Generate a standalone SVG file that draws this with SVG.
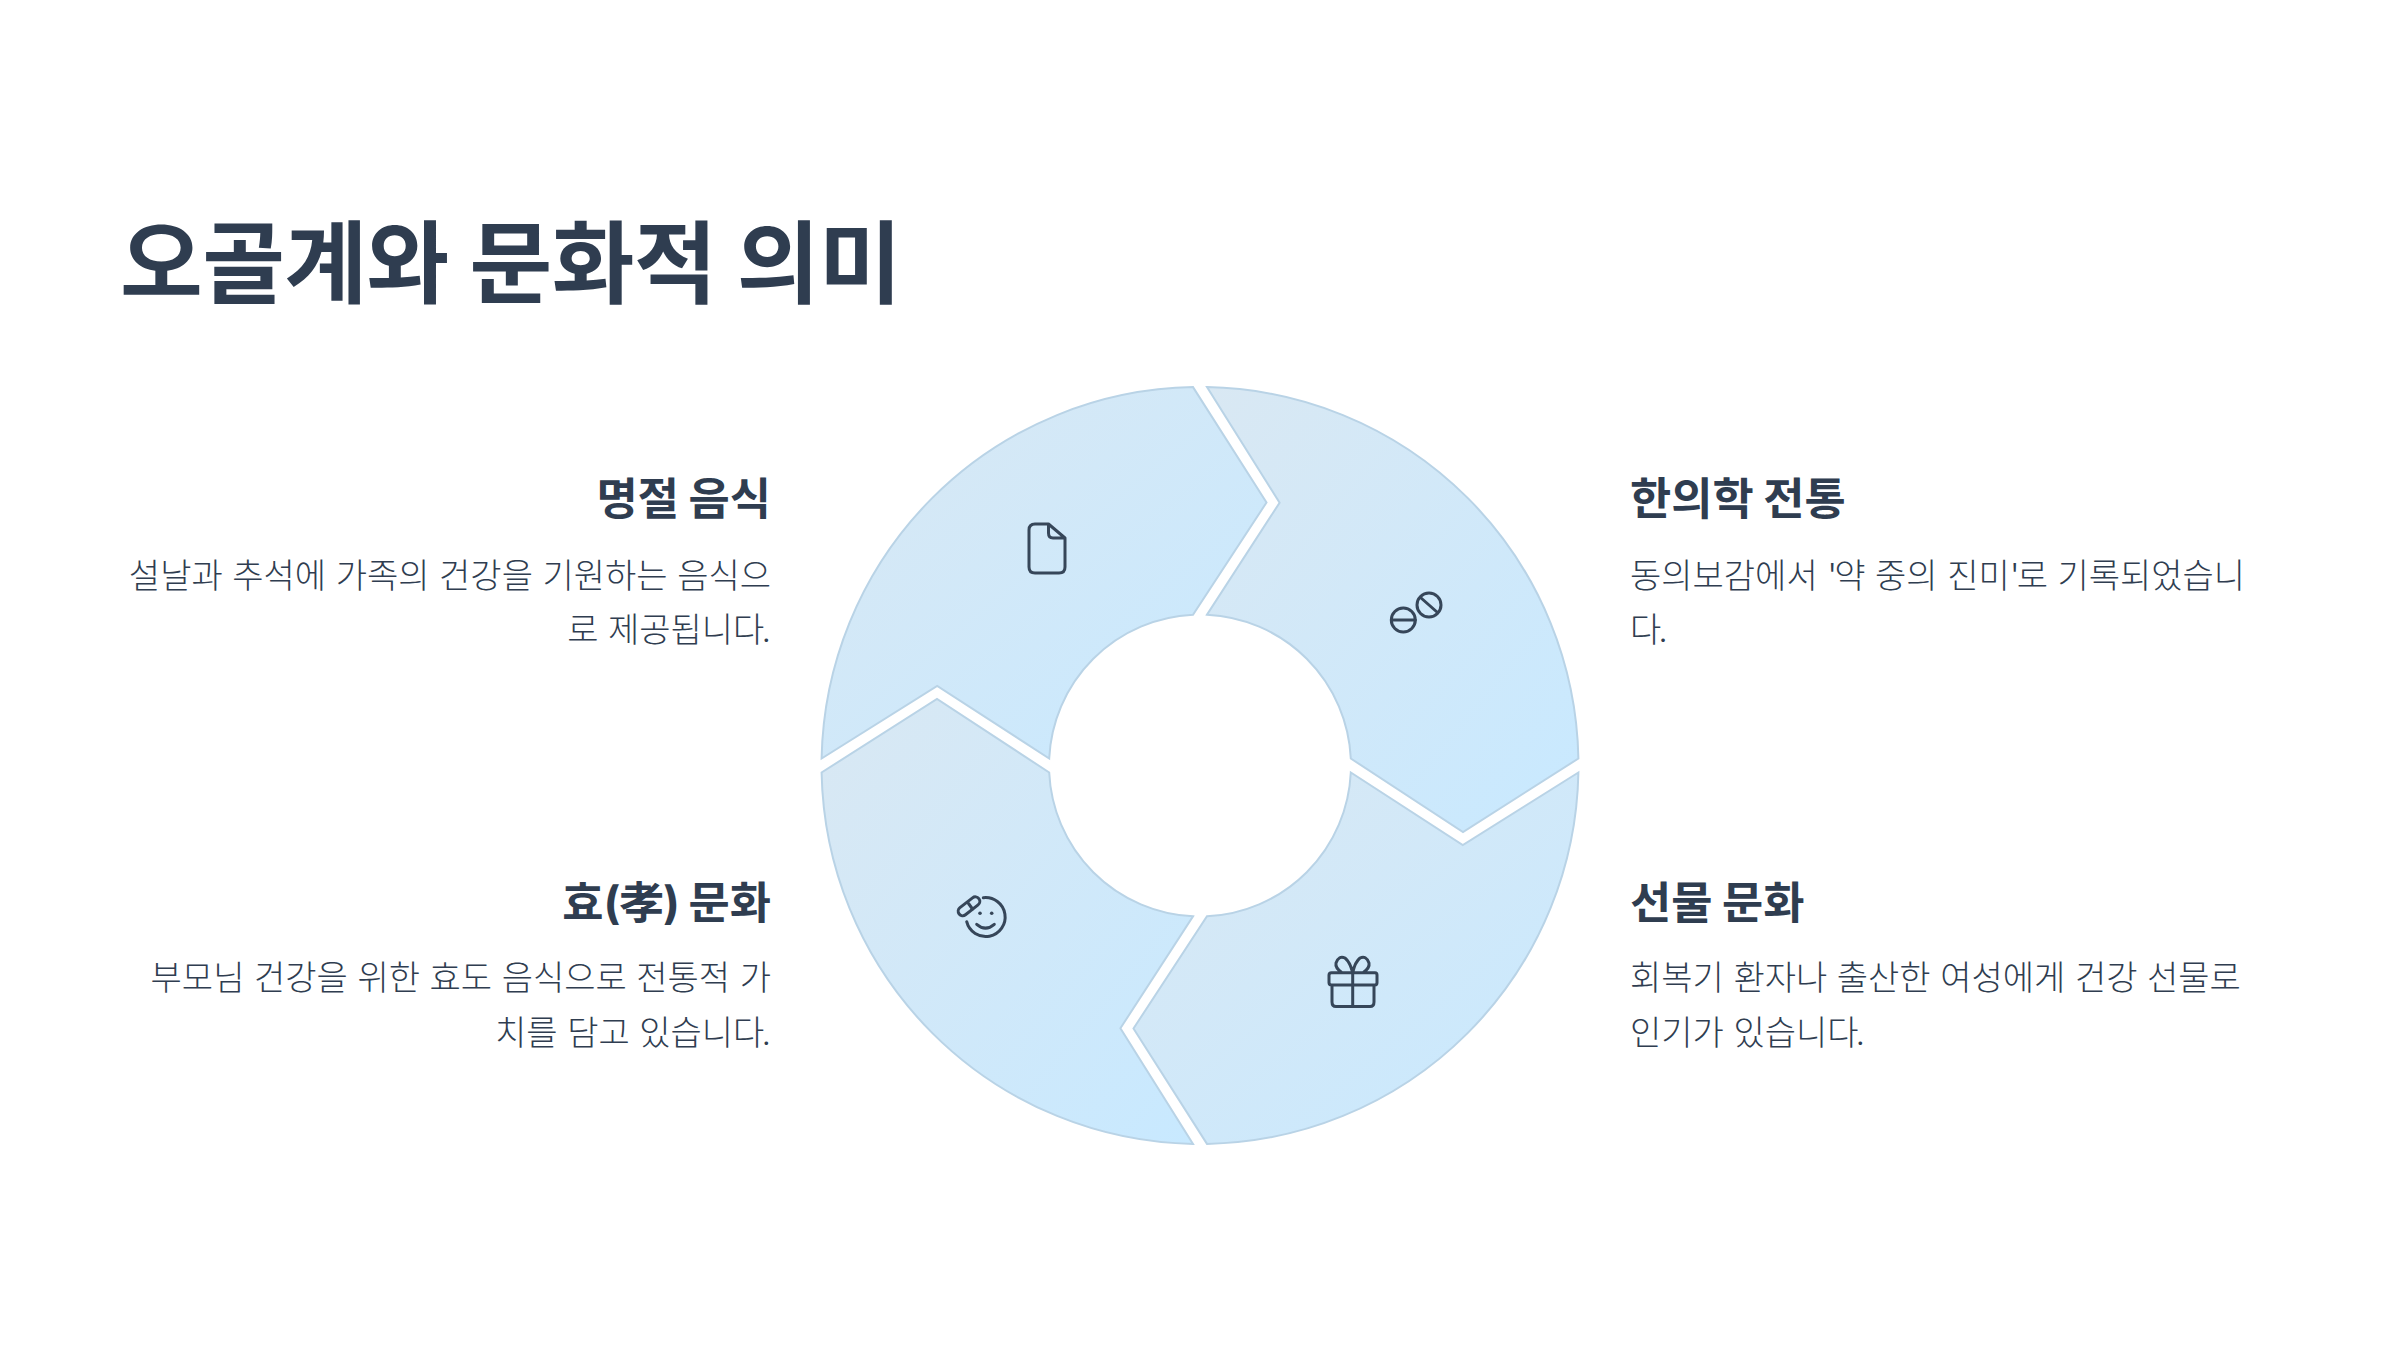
<svg xmlns="http://www.w3.org/2000/svg" width="2400" height="1350" viewBox="0 0 2400 1350">
<style>
text{font-family:Inter,"Noto Sans CJK KR",sans-serif;fill:#2f3d50}
.t{font-size:90px;font-weight:700;letter-spacing:-.6px}
.h{font-size:44.8px;font-weight:700;word-spacing:-1px}
.b{font-size:34px;font-weight:300;fill:#2f3d50}
.q{letter-spacing:-3px}
.p{letter-spacing:-1px}
.e{text-anchor:end}
.seg{stroke:#b9d3e6;stroke-width:2;fill:url(#g)}
.ic{fill:none;stroke:#364659;stroke-width:3;stroke-linecap:round;stroke-linejoin:round}
</style>
<defs>
<linearGradient id="g" x1="0" y1="0" x2="1" y2="1"><stop offset="0" stop-color="#d9e8f3"/><stop offset="1" stop-color="#c8e9ff"/></linearGradient>
</defs>
<rect width="2400" height="1350" fill="#fff"/>
<text class="t" x="120" y="296">오골계와 문화적 의미</text>
<g id="n-tl">
<path class="seg" d="M821.6 758.5A378.5 378.5 0 0 1 1193 387.1L1266.5 502.5 1193 614.7A151 151 0 0 0 1049.2 758.5L937.2 685.9Z"/>
<path class="ic" d="M1035 524H1048.5L1065 538V567Q1065 573 1059 573H1035Q1029 573 1029 567V530Q1029 524 1035 524ZM1048.5 524V533Q1048.5 538 1053 538H1065"/>
<text class="h e" x="771" y="515">명절 음식</text>
<text class="b e" x="771" y="588">설날과 추석에 가족의 건강을 기원하는 음식으</text>
<text class="b e" x="771" y="642">로 제공됩니<tspan class="q">다</tspan>.</text>
</g>
<g id="n-tr">
<path class="seg" d="M1207 387.1A378.5 378.5 0 0 1 1578.4 758.5L1463 832 1350.8 758.5A151 151 0 0 0 1207 614.7L1279.6 502.7Z"/>
<path class="ic" d="M1391.5 620H1415.3M1420.5 597.5L1437.5 612.5"/><circle class="ic" cx="1403.3" cy="620" r="12"/><circle class="ic" cx="1429" cy="605" r="12"/>
<text class="h" x="1630" y="515">한의학 전통</text>
<text class="b" x="1630" y="588">동의보감에서 <tspan class="q">'</tspan>약 중의 진미<tspan class="q">'</tspan>로 기록되었습니</text>
<text class="b" x="1630" y="642"><tspan class="q">다</tspan>.</text>
</g>
<g id="n-br">
<path class="seg" d="M1578.4 772.5A378.5 378.5 0 0 1 1207 1143.9L1133.5 1028.5 1207 916.3A151 151 0 0 0 1350.8 772.5L1462.8 845.1Z"/>
<path class="ic" d="M1332 985H1374V1002Q1374 1006.500 1370 1006.500H1336Q1332 1006.500 1332 1002ZM1331.500 972.700H1375Q1377 972.700 1377 975V982.500Q1377 985 1375 985H1331.500Q1329 985 1329 982.500V975Q1329 972.700 1331.500 972.700ZM1352.700 972.700V1006.500M1352.700 972.700H1342Q1335 968 1336 963Q1339 955 1345 958Q1350 962 1352.700 972.700Q1355 962 1360 958Q1366 955 1369 963Q1370 968 1363 972.700"/>
<text class="h" x="1630" y="919">선물 문화</text>
<text class="b" x="1630" y="990">회복기 환자나 출산한 여성에게 건강 선물로</text>
<text class="b" x="1630" y="1045">인기가 있습니<tspan class="q">다</tspan>.</text>
</g>
<g id="n-bl">
<path class="seg" d="M1193 1143.900A378.5 378.5 0 0 1 821.6 772.5L937 699 1049.2 772.5A151 151 0 0 0 1193 916.300L1120.400 1028.300Z"/>
<path class="ic" d="M983.300 897.700A19.500 19.500 0 1 1 966.700 921.700M976.700 924.300Q985.500 932 994.300 924.300"/>
<rect class="ic" x="956.500" y="901.800" width="25" height="9" rx="4.500" transform="rotate(-38 969 906.300)"/>
<path class="ic" d="M968.500 903.500L972.500 909"/>
<circle cx="980" cy="913.300" r="1.800" fill="#364659"/><circle cx="991.700" cy="913.300" r="1.800" fill="#364659"/>
<text class="h e" x="771" y="919">효<tspan class="p">(孝)</tspan> 문화</text>
<text class="b e" x="771" y="990">부모님 건강을 위한 효도 음식으로 전통적 가</text>
<text class="b e" x="771" y="1045">치를 담고 있습니<tspan class="q">다</tspan>.</text>
</g>
<g id="connectors"/>
</svg>
